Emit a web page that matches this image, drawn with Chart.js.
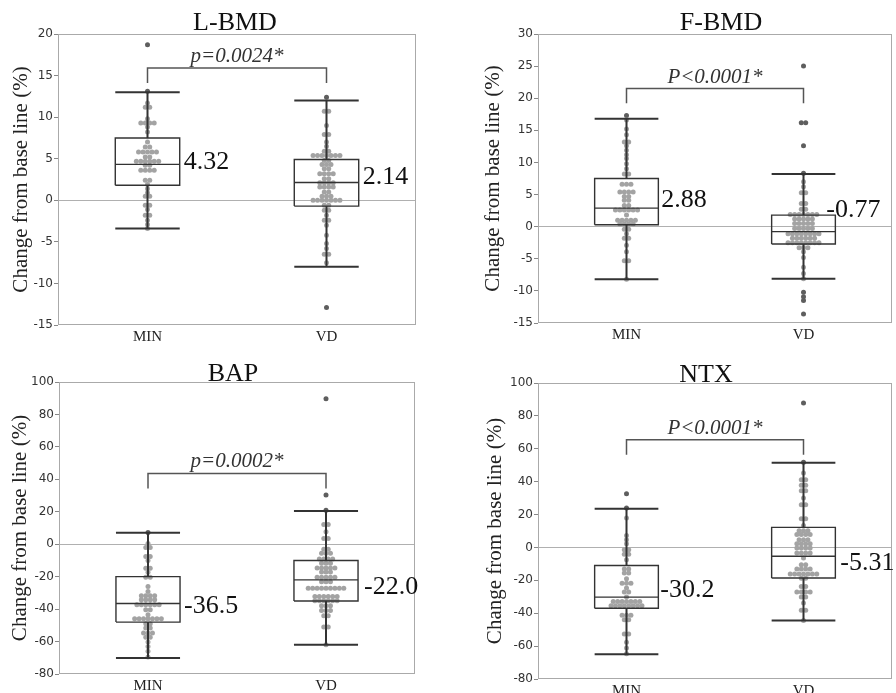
<!DOCTYPE html>
<html>
<head>
<meta charset="utf-8">
<script src="https://cdn.jsdelivr.net/npm/chart.js@4.4.1/dist/chart.umd.min.js"></script>
<style>
  body { margin: 0; background: #fff; }
  #wrap { position: relative; width: 896px; height: 693px; overflow: hidden; background: #fff; }
  canvas { position: absolute; }
</style>
</head>
<body>
<div id="wrap">
  <canvas id="c1" width="448" height="346" style="left:0;top:0"></canvas>
  <canvas id="c2" width="416" height="346" style="left:480px;top:0"></canvas>
  <canvas id="c3" width="448" height="360" style="left:0;top:346px"></canvas>
  <canvas id="c4" width="416" height="360" style="left:480px;top:346px"></canvas>
</div>
<script>
const groups = ['MIN', 'VD'];

// L-BMD
const lbmdMin = [18.7, 13.1, 11.7, 11.2, 11.2, 9.8, 9.3, 9.3, 9.3, 9.3, 8.8, 8.2, 7.0, 6.4, 6.4, 5.8, 5.8, 5.8, 5.8, 5.8,
  5.2, 5.2, 4.7, 4.7, 4.7, 4.7, 4.7, 4.7, 4.2, 4.2, 3.6, 3.6, 3.6, 3.6, 2.4, 2.4, 1.9, 1.4, 0.9, 0.5, 0.5,
  -0.6, -0.6, -1.1, -1.8, -1.8, -2.4, -2.9, -3.4];
const lbmdVd = [12.4, 10.7, 10.7, 9.0, 7.9, 7.9, 7.0, 6.5, 5.9, 5.9, 5.4, 5.4, 5.4, 5.4, 5.4, 5.4, 5.4, 4.8, 4.8,
  4.3, 4.3, 4.3, 3.8, 3.8, 3.2, 3.2, 3.2, 3.2, 2.6, 2.6, 2.1, 2.1, 2.1, 2.1, 1.6, 1.6, 1.6, 1.6, 1.0, 1.0,
  0.5, 0.5, 0.5, 0.0, 0.0, 0.0, 0.0, 0.0, 0.0, 0.0, -0.6, -0.6, -1.2, -1.2, -1.8, -2.4, -2.4, -3.0, -4.2,
  -5.2, -5.8, -6.5, -6.5, -7.5, -12.9];
const lbmdMedian = [4.32, 2.14];
const lbmdQ1 = [1.8, -0.7];
const lbmdQ3 = [7.5, 4.9];
const lbmdLow = [-3.4, -8.0];
const lbmdHigh = [13.0, 12.0];
const lbmdLabels = ['4.32', '2.14'];

// F-BMD
const fbmdMin = [17.3, 16.6, 15.2, 14.3, 13.2, 13.2, 12.6, 11.9, 11.2, 10.6, 9.8, 9.0, 8.2, 8.2, 6.6, 6.6, 6.6,
  5.4, 5.4, 5.4, 5.4, 4.7, 4.7, 4.1, 4.1, 3.3, 3.3, 2.6, 2.6, 2.6, 2.6, 2.6, 2.6, 1.8, 1.0, 1.0, 1.0, 1.0, 1.0,
  0.4, 0.4, 0.4, 0.4, -0.4, -0.4, -1.1, -1.8, -1.8, -2.9, -3.9, -5.3, -5.3, -8.2];
const fbmdVd = [25.0, 16.2, 16.2, 12.6, 8.3, 7.0, 6.2, 5.3, 5.3, 3.6, 3.6, 2.7, 2.7,
  1.9, 1.9, 1.9, 1.9, 1.9, 1.9, 1.9, 1.2, 1.2, 1.2, 1.2, 1.2, 0.5, 0.5, 0.5, 0.5, 0.5,
  -0.3, -0.3, -0.3, -0.3, -0.3, -1.1, -1.1, -1.1, -1.1, -1.1, -1.1, -1.1, -1.1,
  -1.8, -1.8, -1.8, -1.8, -1.8, -1.8, -2.5, -2.5, -2.5, -2.5, -2.5, -2.5, -2.5, -2.5,
  -3.3, -3.3, -3.3, -3.9, -4.8, -6.3, -7.3, -8.1, -10.2, -10.9, -11.5, -13.6];
const fbmdMedian = [2.88, -0.77];
const fbmdQ1 = [0.3, -2.7];
const fbmdQ3 = [7.5, 1.8];
const fbmdLow = [-8.2, -8.1];
const fbmdHigh = [16.8, 8.2];
const fbmdLabels = ['2.88', '-0.77'];

// BAP
const bapMin = [7.3, 0.4, -2.0, -2.0, -7.6, -7.6, -10.0, -14.8, -14.8, -17.3, -20.3, -20.3, -26.0, -29.1,
  -31.8, -31.8, -31.8, -31.8, -34.3, -34.3, -34.3, -34.3, -37.3, -37.3, -37.3, -37.3, -37.3, -37.3,
  -40.4, -40.4, -43.5, -46.0, -46.0, -46.0, -46.0, -46.0, -46.0, -46.0, -49.0, -49.0, -51.7, -51.7,
  -54.8, -54.8, -54.8, -57.4, -57.4, -60.3, -63.0, -66.0, -69.5];
const bapVd = [89.7, 30.3, 21.0, 12.2, 12.2, 7.7, 3.6, 3.6, -3.1, -3.1, -5.6, -5.6, -5.6,
  -9.1, -9.1, -9.1, -9.1, -11.7, -11.7, -11.7, -14.6, -14.6, -14.6, -14.6, -14.6, -17.2, -17.2, -17.2,
  -20.3, -20.3, -20.3, -20.3, -20.3, -23.2, -23.2, -23.2,
  -27.1, -27.1, -27.1, -27.1, -27.1, -27.1, -27.1, -27.1, -27.1,
  -32.2, -32.2, -32.2, -32.2, -32.2, -32.2, -34.9, -34.9, -34.9, -34.9, -34.9, -34.9,
  -38.0, -38.0, -38.0, -40.8, -40.8, -40.8, -44.1, -44.1, -51.1, -51.1, -62.0];
const bapMedian = [-36.5, -22.0];
const bapQ1 = [-48.0, -35.0];
const bapQ3 = [-20.0, -10.0];
const bapLow = [-70.2, -62.0];
const bapHigh = [7.0, 20.5];
const bapLabels = ['-36.5', '-22.0'];

// NTX
const ntxMin = [32.7, 24.0, 17.9, 7.2, 4.7, 2.3, -1.4, -1.4, -4.1, -4.1, -7.5, -13.1, -13.1, -15.6, -15.6,
  -19.0, -21.7, -21.7, -21.7, -24.7, -27.1, -27.1, -30.1,
  -32.8, -32.8, -32.8, -32.8, -32.8, -32.8, -32.8, -35.4, -35.4, -35.4, -35.4, -35.4, -35.4, -35.4, -35.4,
  -41.3, -41.3, -41.3, -43.9, -43.9, -52.6, -52.6, -57.7, -61.2, -64.6];
const ntxVd = [87.8, 51.8, 45.3, 41.2, 41.2, 37.8, 37.8, 34.5, 34.5, 30.1, 26.0, 26.0, 17.5, 17.5, 13.4,
  10.1, 10.1, 10.1, 7.8, 7.8, 7.8, 7.8, 4.7, 4.7, 4.7, 2.3, 2.3, 2.3, 2.3, -0.4, -0.4, -0.4, -0.4,
  -3.4, -3.4, -3.4, -3.4, -6.4, -10.5, -10.5, -13.1, -13.1, -13.1, -13.1,
  -16.2, -16.2, -16.2, -16.2, -16.2, -16.2, -16.2, -18.8, -18.8, -23.7, -23.7,
  -27.1, -27.1, -27.1, -27.1, -30.1, -30.1, -33.8, -38.2, -38.2, -44.5];
const ntxMedian = [-30.2, -5.31];
const ntxQ1 = [-37.0, -18.6];
const ntxQ3 = [-11.0, 12.2];
const ntxLow = [-65.0, -44.5];
const ntxHigh = [23.6, 51.5];
const ntxLabels = ['-30.2', '-5.31'];

const boxHalf = 0.18;
const dotGap = 0.025;
const serif = '"Liberation Serif", "DejaVu Serif", serif';

const panels = [
  { id: 'c1', title: 'L-BMD', min: -15, max: 20, step: 5, pText: 'p=0.0024*', bar: 15.9, leg: 14.1,
    pts: [lbmdMin, lbmdVd], med: lbmdMedian, q1: lbmdQ1, q3: lbmdQ3, low: lbmdLow, high: lbmdHigh, labels: lbmdLabels,
    pad: { top: 34, right: 32, bottom: 3, left: 0 }, yw: 58, tpad: 9, tdx: -2, tdy: -4,
    ldx: [4, 4], ldy: [4.6, 1.5] },
  { id: 'c2', title: 'F-BMD', min: -15, max: 30, step: 5, pText: 'P<0.0001*', bar: 21.5, leg: 19.2,
    pts: [fbmdMin, fbmdVd], med: fbmdMedian, q1: fbmdQ1, q3: fbmdQ3, low: fbmdLow, high: fbmdHigh, labels: fbmdLabels,
    pad: { top: 34, right: 3, bottom: 5, left: 0 }, yw: 58, tpad: 1, tdx: 6, tdy: -4,
    ldx: [3, -9], ldy: [-1.3, -14.7] },
  { id: 'c3', title: 'BAP', min: -80, max: 100, step: 20, pText: 'p=0.0002*', bar: 43.6, leg: 34.4,
    pts: [bapMin, bapVd], med: bapMedian, q1: bapQ1, q3: bapQ3, low: bapLow, high: bapHigh, labels: bapLabels,
    pad: { top: 36, right: 33, bottom: 14, left: 0 }, yw: 59, tpad: 8, tdx: -4, tdy: -1,
    ldx: [4, 6], ldy: [10, 14] },
  { id: 'c4', title: 'NTX', min: -80, max: 100, step: 20, pText: 'P<0.0001*', bar: 65.5, leg: 56.4,
    pts: [ntxMin, ntxVd], med: ntxMedian, q1: ntxQ1, q3: ntxQ3, low: ntxLow, high: ntxHigh, labels: ntxLabels,
    pad: { top: 37, right: 1, bottom: 9, left: 0 }, yw: 58, tpad: 3, tdx: -9, tdy: -1,
    ldx: [2, 5], ldy: [0, 14] }
];

// spread equal values sideways like a dot plot
function swarm(values, center) {
  const count = {};
  const seen = {};
  values.forEach(v => { count[v] = (count[v] || 0) + 1; });
  return values.map(v => {
    seen[v] = seen[v] === undefined ? 0 : seen[v] + 1;
    return { x: center + (seen[v] - (count[v] - 1) / 2) * dotGap, y: v };
  });
}

function boxLines(p) {
  const out = [];
  for (let i = 0; i < 2; i++) {
    const c = i + 1, l = c - boxHalf, r = c + boxHalf;
    out.push({ x: l, y: p.q1[i] }, { x: r, y: p.q1[i] }, { x: r, y: p.q3[i] }, { x: l, y: p.q3[i] }, { x: l, y: p.q1[i] }, { x: l, y: null });
    out.push({ x: l, y: p.med[i] }, { x: r, y: p.med[i] }, { x: r, y: null });
  }
  return out;
}

function whiskerLines(p) {
  const out = [];
  for (let i = 0; i < 2; i++) {
    const c = i + 1, l = c - boxHalf, r = c + boxHalf;
    out.push({ x: c, y: p.q3[i] }, { x: c, y: p.high[i] }, { x: c, y: null });
    out.push({ x: c, y: p.q1[i] }, { x: c, y: p.low[i] }, { x: c, y: null });
    out.push({ x: l, y: p.low[i] }, { x: r, y: p.low[i] }, { x: r, y: null });
    out.push({ x: l, y: p.high[i] }, { x: r, y: p.high[i] }, { x: r, y: null });
  }
  return out;
}

function makeDecor(p) {
  return {
    id: 'decor',
    beforeDatasetsDraw(chart) {
      const { ctx, chartArea: a } = chart;
      ctx.save();
      ctx.strokeStyle = '#aaaaaa';
      ctx.lineWidth = 1;
      ctx.strokeRect(a.left + 0.5, a.top + 0.5, a.width - 1, a.height - 1);
      ctx.restore();
    },
    afterDatasetsDraw(chart) {
      const { ctx, chartArea: a, scales } = chart;
      ctx.save();
      ctx.fillStyle = '#111';
      ctx.textBaseline = 'alphabetic';

      ctx.font = '26px ' + serif;
      ctx.textAlign = 'center';
      ctx.fillText(p.title, (a.left + a.right) / 2 + p.tdx, a.top + p.tdy);

      ctx.font = 'italic 21px ' + serif;
      ctx.fillStyle = '#333';
      ctx.fillText(p.pText, scales.x.getPixelForValue(1.5), scales.y.getPixelForValue(p.bar) - 6);

      ctx.font = '26px ' + serif;
      ctx.fillStyle = '#111';
      ctx.textAlign = 'left';
      for (let i = 0; i < 2; i++) {
        const x = scales.x.getPixelForValue(i + 1 + boxHalf) + p.ldx[i];
        const y = scales.y.getPixelForValue(p.med[i]) + p.ldy[i];
        ctx.fillText(p.labels[i], x, y);
      }
      ctx.restore();
    }
  };
}

for (const p of panels) {
  const dots = [];
  p.pts.forEach((vals, i) => dots.push(...swarm(vals, i + 1)));
  const lowOf = x => p.low[Math.round(x) - 1];
  const highOf = x => p.high[Math.round(x) - 1];

  new Chart(document.getElementById(p.id), {
    type: 'scatter',
    data: {
      datasets: [{
        data: whiskerLines(p),
        showLine: true,
        borderColor: '#333',
        borderWidth: 2,
        pointRadius: 0,
        spanGaps: false,
        order: 1
      }, {
        data: boxLines(p),
        showLine: true,
        borderColor: '#333',
        borderWidth: 1.4,
        pointRadius: 0,
        spanGaps: false,
        order: 1
      }, {
        data: [{ x: 1, y: p.leg }, { x: 1, y: p.bar }, { x: 2, y: p.bar }, { x: 2, y: p.leg }],
        showLine: true,
        borderColor: '#555',
        borderWidth: 1.5,
        pointRadius: 0,
        order: 1
      }, {
        data: dots,
        pointRadius: 2.5,
        pointBorderWidth: 0,
        pointBackgroundColor: ctx => {
          const d = ctx.raw;
          if (!d) return '#a3a3a3';
          return (d.y > highOf(d.x) || d.y < lowOf(d.x)) ? '#5e5e5e' : '#a3a3a3';
        },
        order: 2
      }]
    },
    options: {
      responsive: false,
      devicePixelRatio: 1,
      animation: false,
      layout: { padding: p.pad },
      plugins: {
        legend: { display: false },
        tooltip: { enabled: false }
      },
      scales: {
        x: {
          type: 'linear',
          min: 0.5,
          max: 2.5,
          afterBuildTicks: s => { s.ticks = [{ value: 1 }, { value: 2 }]; },
          afterFit: s => { s.height = 18; },
          ticks: {
            callback: v => groups[v - 1],
            font: { family: serif, size: 15 },
            color: '#222',
            padding: 3
          },
          grid: { display: false, drawTicks: false, tickLength: 0 },
          border: { display: false }
        },
        y: {
          min: p.min,
          max: p.max,
          afterFit: s => { s.width = p.yw; },
          ticks: {
            stepSize: p.step,
            font: { family: '"DejaVu Sans", sans-serif', size: 12 },
            color: '#333',
            padding: 1
          },
          grid: {
            drawTicks: true,
            tickLength: 4,
            tickColor: '#888',
            color: ctx => (ctx.tick && ctx.tick.value === 0) ? '#b0b0b0' : 'rgba(0,0,0,0)'
          },
          border: { display: false },
          title: {
            display: true,
            text: 'Change from base line (%)',
            font: { family: serif, size: 21 },
            color: '#222',
            padding: { top: p.tpad, bottom: 0 }
          }
        }
      }
    },
    plugins: [makeDecor(p)]
  });
}
</script>
</body>
</html>
